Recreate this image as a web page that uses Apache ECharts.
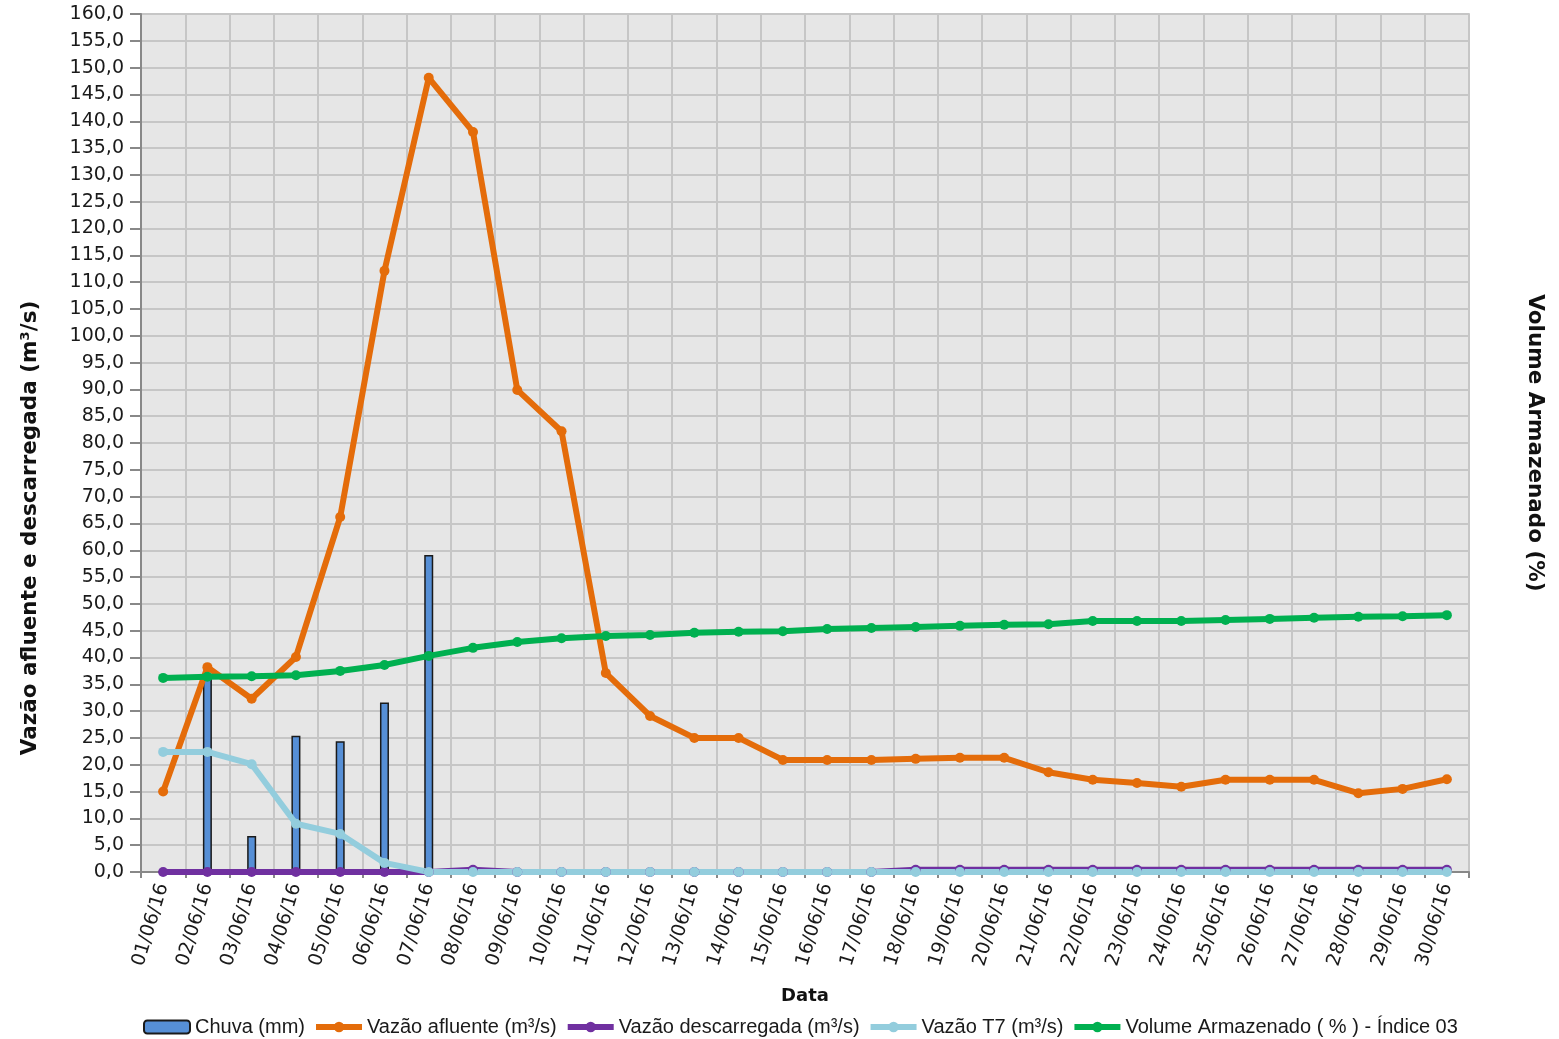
<!DOCTYPE html>
<html>
<head>
    <meta charset="utf-8">
    <title>Vazão e volume armazenado - junho 2016</title>
    <script src="https://cdn.jsdelivr.net/npm/echarts@6/dist/echarts.min.js"></script>
    <style>
        html, body { margin: 0; padding: 0; background: #fff; }
    </style>
</head>
<body>
<div id="main" style="width: 1559px;height:1039px;"></div>
<script type="text/javascript">
    const dias = ['01/06/16', '02/06/16', '03/06/16', '04/06/16', '05/06/16', '06/06/16', '07/06/16', '08/06/16',
        '09/06/16', '10/06/16', '11/06/16', '12/06/16', '13/06/16', '14/06/16', '15/06/16', '16/06/16',
        '17/06/16', '18/06/16', '19/06/16', '20/06/16', '21/06/16', '22/06/16', '23/06/16', '24/06/16',
        '25/06/16', '26/06/16', '27/06/16', '28/06/16', '29/06/16', '30/06/16'];

    const chuva = [0, 36.5, 6.7, 25.4, 24.4, 31.6, 59.1, 0, 0, 0, 0, 0, 0, 0, 0,
        0, 0, 0, 0, 0, 0, 0, 0, 0, 0, 0, 0, 0, 0, 0];

    const vazaoAfluente = [15.0, 38.2, 32.3, 40.1, 66.2, 112.1, 148.1, 138.0, 89.9, 82.2, 37.1, 29.1, 25.0, 25.0, 20.9,
        20.9, 20.9, 21.1, 21.3, 21.3, 18.6, 17.2, 16.6, 15.9, 17.2, 17.2, 17.2, 14.7, 15.5, 17.3];

    const vazaoDescarregada = [0, 0, 0, 0, 0, 0, 0, 0.4, 0, 0, 0, 0, 0, 0, 0,
        0, 0, 0.4, 0.4, 0.4, 0.4, 0.4, 0.4, 0.4, 0.4, 0.4, 0.4, 0.4, 0.4, 0.4];

    const vazaoT7 = [22.4, 22.4, 20.1, 9.0, 7.1, 1.7, 0, 0, 0, 0, 0, 0, 0, 0, 0,
        0, 0, 0, 0, 0, 0, 0, 0, 0, 0, 0, 0, 0, 0, 0];

    const volume = [36.2, 36.4, 36.5, 36.7, 37.5, 38.6, 40.3, 41.8, 42.9, 43.6, 44.0, 44.2, 44.6, 44.8, 44.9,
        45.3, 45.5, 45.7, 45.9, 46.1, 46.2, 46.8, 46.8, 46.8, 47.0, 47.2, 47.4, 47.6, 47.7, 47.9];

    const myChart = echarts.init(document.getElementById('main'));

    // linha com marcador redondo, igual para todas as séries de vazão
    function linha(nome, dados, cor, eixo) {
        return {
            name: nome,
            type: 'line',
            yAxisIndex: eixo,
            data: dados,
            symbol: 'circle',
            symbolSize: 10,
            showSymbol: true,
            lineStyle: {color: cor, width: 6},
            itemStyle: {color: cor},
            emphasis: {disabled: true}
        };
    }

    const option = {
        animation: false,
        backgroundColor: '#ffffff',
        grid: {left: 141, right: 90, top: 14, bottom: 167, show: true, backgroundColor: '#e6e6e6', borderWidth: 0},
        legend: {
            left: 138,
            top: 1012,
            itemWidth: 46,
            itemHeight: 13,
            itemGap: 8,
            lineStyle: {width: 6},
            textStyle: {fontFamily: 'Liberation Sans', fontSize: 20, color: '#1a1a1a'},
            data: ['Chuva (mm)', 'Vazão afluente (m³/s)', 'Vazão descarregada (m³/s)', 'Vazão T7 (m³/s)',
                'Volume Armazenado ( % ) - Índice 03']
        },
        xAxis: {
            type: 'category',
            data: dias,
            boundaryGap: true,
            name: 'Data',
            nameLocation: 'middle',
            nameGap: 115,
            nameTextStyle: {fontFamily: 'DejaVu Sans', fontWeight: 'bold', fontSize: 18, color: '#111'},
            axisLine: {lineStyle: {color: '#888', width: 2}},
            axisTick: {show: true, length: 6, lineStyle: {color: '#888', width: 2}},
            axisLabel: {
                rotate: 73,
                interval: 0,
                margin: 12,
                fontFamily: 'DejaVu Sans',
                fontSize: 19,
                color: '#1a1a1a'
            },
            splitLine: {show: true, interval: 0, lineStyle: {color: '#c6c6c6', width: 2}}
        },
        yAxis: [
            {
                type: 'value',
                min: 0,
                max: 160,
                interval: 5,
                name: 'Vazão afluente e descarregada (m³/s)',
                nameLocation: 'middle',
                nameGap: 100,
                nameRotate: 90,
                nameTextStyle: {
                    fontFamily: 'DejaVu Sans', fontWeight: 'bold', fontSize: 21.5, color: '#111',
                    padding: [0, 170, 0, 0]
                },
                axisLine: {show: true, lineStyle: {color: '#888', width: 2}},
                axisTick: {show: true, length: 11, lineStyle: {color: '#888', width: 2}},
                axisLabel: {
                    margin: 17,
                    fontFamily: 'DejaVu Sans',
                    fontSize: 19,
                    color: '#1a1a1a',
                    formatter: v => v.toFixed(1).replace('.', ',')
                },
                splitLine: {show: true, lineStyle: {color: '#c6c6c6', width: 2}}
            },
            {
                type: 'value',
                min: 0,
                max: 160,
                interval: 5,
                position: 'right',
                name: 'Volume Armazenado (%)',
                nameLocation: 'middle',
                nameGap: 55,
                nameRotate: -90,
                nameTextStyle: {fontFamily: 'DejaVu Sans', fontWeight: 'bold', fontSize: 21.5, color: '#111'},
                axisLine: {show: true, lineStyle: {color: '#c6c6c6', width: 2}},
                axisTick: {show: false},
                axisLabel: {show: false},
                splitLine: {show: false}
            }
        ],
        series: [
            {
                name: 'Chuva (mm)',
                type: 'bar',
                data: chuva,
                barWidth: 9,
                itemStyle: {color: '#568fd6', borderColor: '#1a1a1a', borderWidth: 1.5},
                emphasis: {disabled: true}
            },
            linha('Vazão afluente (m³/s)', vazaoAfluente, '#e46c0a', 0),
            linha('Vazão descarregada (m³/s)', vazaoDescarregada, '#7030a0', 0),
            linha('Vazão T7 (m³/s)', vazaoT7, '#93cddd', 0),
            linha('Volume Armazenado ( % ) - Índice 03', volume, '#00b050', 1)
        ]
    };

    myChart.setOption(option);
</script>
</body>
</html>
